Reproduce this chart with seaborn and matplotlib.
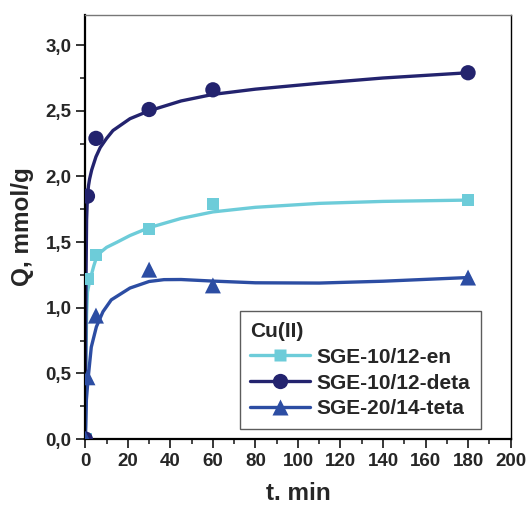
import numpy as np
import pandas as pd
import seaborn as sns
import matplotlib.pyplot as plt
from matplotlib.lines import Line2D
from matplotlib.ticker import FuncFormatter, MultipleLocator

# measured points
t_pts = [0, 1, 5, 30, 60, 180]
q_en = [0, 1.22, 1.40, 1.60, 1.79, 1.82]
q_deta = [0, 1.85, 2.29, 2.51, 2.66, 2.79]
q_teta = [0, 0.47, 0.94, 1.29, 1.17, 1.23]

# fitted curves
t_fit_en = [0, 0.3, 0.6, 1, 2, 3, 4, 5, 7, 10, 15, 21, 30, 45, 60, 80, 110, 140, 180]
q_fit_en = [0, 0.6, 0.95, 1.12, 1.2, 1.26, 1.32, 1.37, 1.42, 1.46, 1.50, 1.55, 1.61,
            1.68, 1.73, 1.765, 1.795, 1.81, 1.82]
t_fit_deta = [0, 0.3, 0.6, 1, 1.5, 2, 3, 5, 7, 10, 13, 21, 30, 45, 60, 80, 110, 140, 180]
q_fit_deta = [0, 1.2, 1.67, 1.85, 1.93, 1.98, 2.05, 2.15, 2.22, 2.29, 2.35, 2.44, 2.50,
              2.575, 2.625, 2.665, 2.71, 2.75, 2.79]
t_fit_teta = [0, 0.2, 0.5, 1.3, 2.8, 5.2, 8.3, 12.2, 21, 30, 37, 45, 60, 80, 110, 140, 180]
q_fit_teta = [0, 0.1, 0.30, 0.46, 0.70, 0.855, 0.97, 1.06, 1.15, 1.20, 1.214, 1.215,
              1.203, 1.19, 1.188, 1.202, 1.23]

labels = ["SGE-10/12-en", "SGE-10/12-deta", "SGE-20/14-teta"]
colors = ["#6DCCD9", "#23236E", "#2C4DA3"]
markers = ["s", "o", "^"]
msizes = [9, 11, 11.5]

sns.set_theme(style="ticks")
plt.rcParams["font.family"] = ["Liberation Sans", "DejaVu Sans"]
plt.rcParams["font.weight"] = "bold"

fig = plt.figure(figsize=(5.28, 5.08), dpi=100)
ax = fig.add_axes([0.1616, 0.1358, 0.8054, 0.8347])

fits = [(t_fit_en, q_fit_en), (t_fit_deta, q_fit_deta), (t_fit_teta, q_fit_teta)]
pts = [q_en, q_deta, q_teta]
for (tf, qf), qp, lab, c, m, ms in zip(fits, pts, labels, colors, markers, msizes):
    sns.lineplot(x=tf, y=qf, ax=ax, color=c, linewidth=2.4, sort=False, estimator=None)
    sns.scatterplot(x=t_pts, y=qp, ax=ax, color=c, marker=m, s=ms ** 2,
                    edgecolor="none", zorder=3)

ax.set_xlim(0, 200)
ax.set_ylim(0, 3.23)
ax.xaxis.set_major_locator(MultipleLocator(20))
ax.xaxis.set_minor_locator(MultipleLocator(10))
ax.yaxis.set_major_locator(MultipleLocator(0.5))
ax.yaxis.set_minor_locator(MultipleLocator(0.25))
ax.yaxis.set_major_formatter(FuncFormatter(lambda v, p: f"{v:.1f}".replace(".", ",")))
ax.tick_params(which="major", length=6.5, width=1.3, labelsize=13.5, pad=3.5)
ax.tick_params(which="minor", length=3.6, width=1.2)
ax.tick_params(top=False, right=False, which="both")

for s in ["left", "bottom"]:
    ax.spines[s].set_linewidth(1.6)
    ax.spines[s].set_color("black")
ax.spines["right"].set_linewidth(1.0)
ax.spines["right"].set_color("black")
ax.spines["top"].set_linewidth(1.0)
ax.spines["top"].set_color("#777777")

ax.set_xlabel("t. min", fontsize=17.5, fontweight="bold", labelpad=9)
ax.set_ylabel("Q, mmol/g", fontsize=17.5, fontweight="bold", labelpad=8)

handles = [Line2D([], [], color=c, marker=m, markersize=ms, linewidth=2.4,
                  markeredgecolor="none")
           for c, m, ms in zip(colors, markers, msizes)]
leg = ax.legend(handles, labels, title="Cu(II)", loc="lower right",
                bbox_to_anchor=(0.93, 0.024), borderaxespad=0, fontsize=15,
                title_fontproperties={"weight": "bold", "size": 15},
                handlelength=2.9, handletextpad=0.3, labelspacing=0.33,
                borderpad=0.5, frameon=True, fancybox=False, alignment="left")
leg.get_frame().set_edgecolor("#333333")
leg.get_frame().set_linewidth(1.0)
for txt in leg.get_texts():
    txt.set_fontweight("bold")

fig.savefig("out.png", dpi=100)
